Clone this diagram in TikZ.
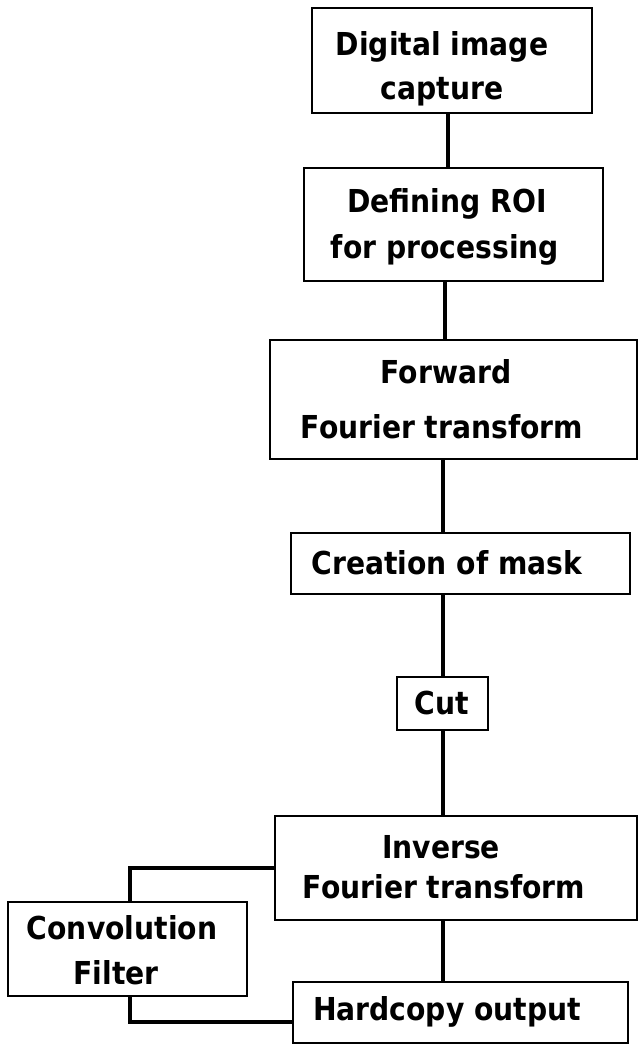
\documentclass[tikz,border=0pt]{standalone}
\usepackage{fontspec}
\usepackage{graphicx}
\setmainfont{DejaVu Sans}
\newcommand{\tallt}[1]{\scalebox{1}[1.12]{#1}}
\begin{document}
\begin{tikzpicture}[x=1pt,y=-1pt,
  box/.style={draw=black, line width=2pt, inner sep=0pt, rectangle},
  conn/.style={draw=black, line width=4.5pt},
  txt/.style={inner sep=0pt, anchor=base, font=\fontsize{28.2}{34}\selectfont\bfseries}]
\useasboundingbox (0,0) rectangle (638,1046);
% boxes
\node[box, minimum width=280pt, minimum height=105pt] (b1) at (452,60.5) {};
\node[box, minimum width=299pt, minimum height=113pt] (b2) at (453.5,224.5) {};
\node[box, minimum width=367pt, minimum height=119pt] (b3) at (453.5,399.5) {};
\node[box, minimum width=339pt, minimum height=61pt] (b4) at (460.5,563.5) {};
\node[box, minimum width=91pt, minimum height=53pt] (b5) at (442.5,703.5) {};
\node[box, minimum width=362pt, minimum height=104pt] (b6) at (456,868) {};
\node[box, minimum width=239pt, minimum height=94pt] (b7) at (127.5,949) {};
\node[box, minimum width=335pt, minimum height=61pt] (b8) at (460.5,1012.5) {};
% texts
\node[txt] (t1a) at (442,56) {\tallt{Digital image}};
\node[txt] (t1b) at (442,99.5) {\tallt{capture}};
\node[txt] (t2a) at (447,212) {\tallt{Defining ROI}};
\node[txt] (t2b) at (445,258) {\tallt{for processing}};
\node[txt] (t3a) at (446,383) {\tallt{Forward}};
\node[txt] (t3b) at (442,438) {\tallt{Fourier transform}};
\node[txt] (t4) at (447,574) {\tallt{Creation of mask}};
\node[txt] (t5) at (442,714) {\tallt{Cut}};
\node[txt] (t6a) at (441,858) {\tallt{Inverse}};
\node[txt] (t6b) at (444,898) {\tallt{Fourier transform}};
\node[txt] (t7a) at (122,939) {\tallt{Convolution}};
\node[txt] (t7b) at (116,984) {\tallt{Filter}};
\node[txt] (t8) at (447,1020) {\tallt{Hardcopy output}};
% connectors
\draw[conn] ([xshift=-4pt]b1.south) -- ([xshift=-4pt]b1.south |- b2.north);
\draw[conn] ([xshift=-8.5pt]b2.south) -- ([xshift=-8.5pt]b2.south |- b3.north);
\draw[conn] ([xshift=-10.5pt]b3.south) -- ([xshift=-10.5pt]b3.south |- b4.north);
\draw[conn] ([xshift=-17.5pt]b4.south) -- ([xshift=-17.5pt]b4.south |- b5.north);
\draw[conn] ([xshift=0.5pt]b5.south) -- ([xshift=0.5pt]b5.south |- b6.north);
\draw[conn] ([xshift=-13pt]b6.south) -- ([xshift=-13pt]b6.south |- b8.north);
\draw[conn] (b6.west) -| ([xshift=2.5pt]b7.north);
\draw[conn] ([xshift=2.5pt]b7.south) |- ([yshift=-9.5pt]b8.west);
\end{tikzpicture}
\end{document}
